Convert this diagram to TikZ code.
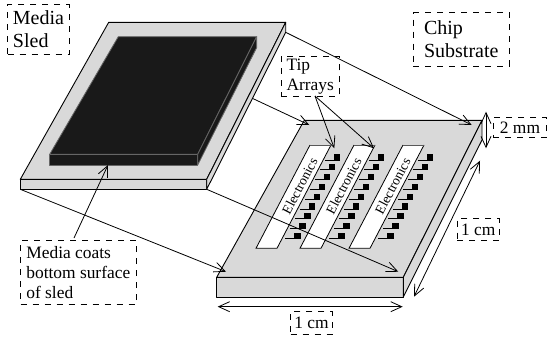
\documentclass[tikz,border=0pt]{standalone}
\usepackage{fontspec}
\setmainfont{Liberation Serif}
\usetikzlibrary{arrows.meta}
\tikzset{
	>={Straight Barb[length=5.5pt,width=5pt]},
	face/.style={fill=black!15,draw=black,line width=0.45pt,line join=round},
	coat/.style={fill=black!90,draw=black!60,line width=0.4pt,line join=round},
	lead/.style={->,line width=0.4pt},
	dim/.style={<->,line width=0.4pt},
	biglabel/.style={draw,dashed,line width=0.4pt,align=left,inner sep=0pt,font=\fontsize{10}{11.5}\selectfont},
	smalllabel/.style={biglabel,font=\fontsize{8.7}{10}\selectfont},
}

\begin{document}
\begin{tikzpicture}[x=0.5pt,y=-0.5pt]
	%%%%% START %%%%%
	\useasboundingbox (0, 0) rectangle (547, 337);

	% chip substrate
	\coordinate (chipback) at (304.3, 120.3);
	\coordinate (chipright) at (482, 120.3);
	\coordinate (chipleft) at (216.7, 277.3);
	\coordinate (chipfront) at (403.3, 277.3);
	\draw[face] (chipback) -- (chipright) -- (chipfront) -- (chipleft) -- cycle;
	\draw[face] (chipleft) rectangle (403.3, 297);
	\draw[face] (chipfront) -- (chipright) -- (482, 140) -- (403.3, 297) -- cycle;

	% electronics strips and their tips
	\foreach \dx/\strip in {0/one, 44/two, 93/three} {
		\fill[white] (256+\dx, 248.3) -- (310+\dx, 145) -- (331+\dx, 145) -- (277+\dx, 248.3) -- cycle;
		\draw[line width=0.4pt] (310+\dx, 145) -- (256+\dx, 248.3) -- (277+\dx, 248.3) -- (331+\dx, 145);
		\draw[line width=0.4pt, color=black!65] (310+\dx, 145) -- (331+\dx, 145);
		\node[rotate=62.4, font=\fontsize{6.8}{8}\selectfont, inner sep=0pt] (electronics\strip) at (299.7+\dx, 186) {Electronics};
		\foreach \n in {0, ..., 8} {
			\fill[black] (334+\dx-4.95*\n, 154.3+9.8*\n) rectangle (340.2+\dx-4.95*\n, 160.5+9.8*\n);
			\draw[line width=0.4pt] (325+\dx-4.95*\n, 160+9.8*\n) -- (334+\dx-4.95*\n, 160+9.8*\n);
		}
	}

	% media sled
	\coordinate (sledback) at (108.7, 22.3);
	\coordinate (sledright) at (285.7, 22.3);
	\coordinate (sledleft) at (20.3, 179.3);
	\coordinate (sledfront) at (206.7, 179.3);
	\coordinate (sledleftlow) at (20.3, 189.3);
	\coordinate (sledfrontlow) at (206.7, 189.3);
	\coordinate (sledrightlow) at (285.7, 32.3);
	\draw[face] (sledback) -- (sledright) -- (sledfront) -- (sledleft) -- cycle;
	\draw[face] (sledleft) rectangle (sledfrontlow);
	\draw[face] (sledfront) -- (sledright) -- (sledrightlow) -- (sledfrontlow) -- cycle;

	% media coating
	\draw[coat] (118.3, 36.7) -- (256.7, 36.7) -- (197.7, 154.3) -- (49.7, 154.3) -- cycle;
	\draw[coat] (49.7, 154.3) rectangle (197.7, 165);
	\draw[coat] (197.7, 154.3) -- (256.7, 36.7) -- (256.7, 47.5) -- (197.7, 165) -- cycle;

	% labels
	\node[biglabel, minimum width=30.8pt, minimum height=24.6pt] (sledlabel) at (38.5, 29.3) {Media\\Sled};
	\node[biglabel, minimum width=48pt, minimum height=26.6pt] (chiplabel) at (461.3, 39.3) {Chip\\Substrate};
	\node[smalllabel, minimum width=29.2pt, minimum height=19.7pt] (tiplabel) at (310.2, 76.3) {Tip\\Arrays};
	\node[smalllabel, minimum width=26.7pt, minimum height=10pt] (heightlabel) at (520, 127.7) {2 mm};
	\node[smalllabel, minimum width=21pt, minimum height=11pt] (depthlabel) at (478.3, 229.7) {1 cm};
	\node[smalllabel, minimum width=20.8pt, minimum height=11.2pt] (widthlabel) at (311.5, 322.8) {1 cm};
	\node[smalllabel, minimum width=57.7pt, minimum height=32.2pt] (coatlabel) at (78.3, 272.5) {Media coats\\bottom surface\\of sled};

	% free ends of the leaders
	\coordinate (sledmid) at (252.3, 98.3);
	\coordinate (chipbackend) at (309.3, 125);
	\coordinate (chiprightend) at (471.7, 125);
	\coordinate (chipleftend) at (226, 271.7);
	\coordinate (chipfrontend) at (398.3, 271.7);
	\coordinate (tiptop) at (334.3, 148.3);
	\coordinate (tiptoptwo) at (374, 148.3);
	\coordinate (coattip) at (108, 165);
	\coordinate (tipstart) at (315, 96);
	\coordinate (coatstart) at (74, 238);

	\draw[lead] (sledleftlow) -- (chipleftend);
	\draw[lead] (sledfrontlow) -- (chipfrontend);
	\draw[lead] (sledrightlow) -- (chiprightend);
	\draw[lead] (sledmid) -- (chipbackend);
	\draw[lead] (tipstart) -- (tiptop);
	\draw[lead] (tipstart) -- (tiptoptwo);
	\draw[lead] (coatstart) -- (coattip);

	% dimensions
	\coordinate (heighttop) at (486, 111.7);
	\coordinate (heightlow) at (486, 148.3);
	\coordinate (depthtop) at (480, 160.7);
	\coordinate (depthlow) at (414, 296.7);
	\coordinate (widthleft) at (217.7, 306.7);
	\coordinate (widthright) at (402.7, 306.7);
	\draw[dim] (heighttop) -- (heightlow);
	\draw[dim] (depthtop) -- (depthlow);
	\draw[dim] (widthleft) -- (widthright);
	%%%%% END %%%%%
\end{tikzpicture}
\end{document}
